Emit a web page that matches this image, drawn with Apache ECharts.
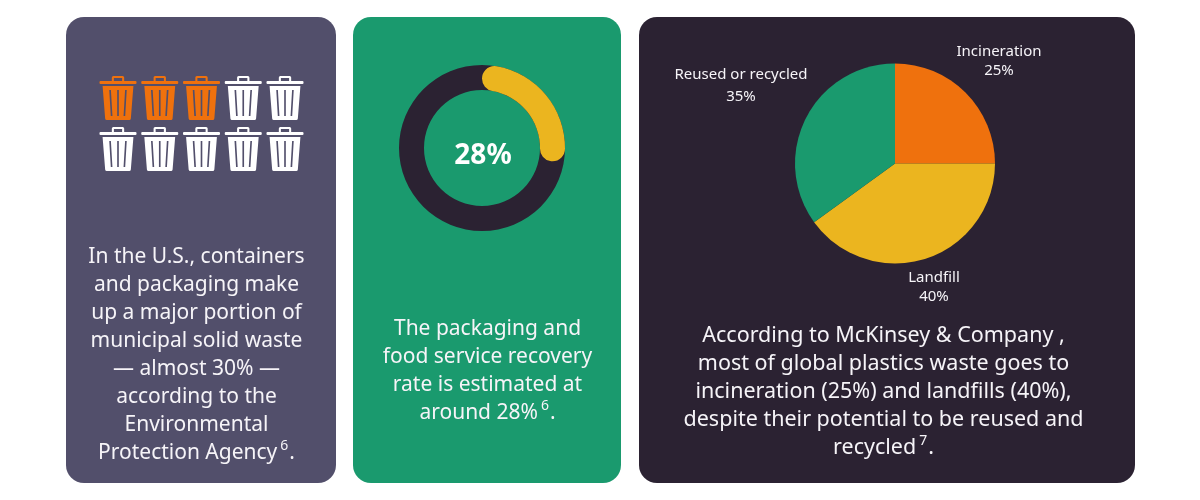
<!DOCTYPE html>
<html>
<head>
<meta charset="utf-8">
<style>
  html, body { margin: 0; padding: 0; background: #fff; }
  #main { width: 1200px; height: 500px; }
</style>
<script src="https://cdn.jsdelivr.net/npm/echarts@6/dist/echarts.min.js"></script>
</head>
<body>
<div id="main"></div>
<script>
// bins: 3 out of 10 filled
var binTotal = 10;
var binFilled = 3;
var binColumns = 5;

var recoveryRate = 28;

var pieNames = ['Incineration', 'Landfill', 'Reused or recycled'];
var pieValues = [25, 40, 35];

var leftLines = ['In the U.S., containers', 'and packaging make', 'up a major portion of', 'municipal solid waste',
    '— almost 30% —', 'according to the', 'Environmental', 'Protection Agency{sup|6}.'];
var middleLines = ['The packaging and', 'food service recovery', 'rate is estimated at', 'around 28%{sup|6}.'];
var rightLines = ['According to McKinsey & Company ,', 'most of global plastics waste goes to',
    'incineration (25%) and landfills (40%),', 'despite their potential to be reused and', 'recycled{sup|7}.'];

var FONT = '"Noto Sans", sans-serif';
var TEXT = '#F6F4F8';
var ORANGE = '#EF710D';
var YELLOW = '#EBB51F';
var GREEN = '#1A9A6E';
var DARK = '#2B2232';
var SLATE = '#524F6B';

var binPath = 'path://M12 5V1.5Q12 0 13.5 0H22.5Q24 0 24 1.5V5H22V2H14V5Z' +
    'M1 5H35Q36 5 36 6V7Q36 8 35 8H1Q0 8 0 7V6Q0 5 1 5Z' +
    'M3 10H33L30.5 42.5Q30.3 44 29 44H7Q5.7 44 5.5 42.5Z' +
    'M9.5 14L11 40H12.6L11.1 14Z' +
    'M17.2 14V40H18.8V14Z' +
    'M24.9 14L23.4 40H25L26.5 14Z';

function card(x, w, color) {
    return {
        type: 'rect', z: 0,
        shape: { x: x, y: 17, width: w, height: 466, r: 18 },
        style: { fill: color }
    };
}

function textBlock(lines, cx, firstY, size) {
    return lines.map(function (line, i) {
        return {
            type: 'text', z: 1, x: cx, y: firstY + i * 28,
            style: {
                text: line, fill: TEXT, font: size + 'px ' + FONT,
                align: 'center', verticalAlign: 'middle',
                rich: {
                    sup: { fontSize: 14, fontFamily: 'Noto Sans', fill: TEXT, verticalAlign: 'top', padding: [0, 1, 14, 3] }
                }
            }
        };
    });
}

var binData = [];
for (var i = 0; i < binTotal; i++) {
    binData.push({
        value: [i % binColumns, Math.floor(i / binColumns)],
        itemStyle: { color: i < binFilled ? ORANGE : '#FFFFFF', opacity: 1 }
    });
}

// label spots around the pie: centre x, centre y
var labelSpots = [[999, 61], [934, 287.5], [741, 85.5]];
var labelLineHeights = [19, 19, 22];

var pieData = [];
for (var j = 0; j < pieNames.length; j++) {
    pieData.push({
        name: pieNames[j],
        value: pieValues[j],
        itemStyle: { color: [ORANGE, YELLOW, GREEN][j] },
        label: { lineHeight: labelLineHeights[j] }
    });
}

var myChart = echarts.init(document.getElementById('main'));

var option = {
    animation: false,
    backgroundColor: '#FFFFFF',
    grid: { left: 118, top: 98, width: 167, height: 51 },
    xAxis: { type: 'value', min: 0, max: 4, show: false },
    yAxis: { type: 'value', min: 0, max: 1, inverse: true, show: false },
    graphic: [
        card(66, 270, SLATE),
        card(353, 268, GREEN),
        card(639, 496, DARK),
        {
            type: 'text', z: 1, x: 483, y: 156,
            style: {
                text: recoveryRate + '%', fill: '#FFFFFF', font: 'bold 28px ' + FONT,
                align: 'center', verticalAlign: 'middle'
            }
        }
    ].concat(textBlock(leftLines, 196.5, 257, 21))
     .concat(textBlock(middleLines, 487.5, 329, 21))
     .concat(textBlock(rightLines, 883.5, 336, 21.5)),
    series: [
        {
            type: 'scatter',
            clip: false,
            symbol: binPath,
            symbolSize: [37, 44],
            silent: true,
            data: binData
        },
        {
            type: 'pie',
            center: [482, 148],
            radius: [58, 83],
            silent: true,
            label: { show: false },
            labelLine: { show: false },
            data: [{ value: 100, itemStyle: { color: DARK } }]
        },
        {
            type: 'pie',
            center: [482, 148],
            radius: [58, 83],
            startAngle: 90,
            silent: true,
            label: { show: false },
            labelLine: { show: false },
            data: [
                { value: recoveryRate, itemStyle: { color: YELLOW, borderRadius: 12.5 } },
                { value: 100 - recoveryRate, itemStyle: { color: 'transparent' } }
            ]
        },
        {
            type: 'pie',
            center: [895, 163.5],
            radius: [0, 100],
            startAngle: 90,
            silent: true,
            label: {
                show: true,
                position: 'outside',
                formatter: '{b}\n{c}%',
                color: TEXT,
                fontFamily: FONT,
                fontSize: 15,
                align: 'center'
            },
            labelLine: { show: false },
            labelLayout: function (params) {
                var spot = labelSpots[params.dataIndex];
                return { x: spot[0], y: spot[1], align: 'center', verticalAlign: 'middle' };
            },
            data: pieData
        }
    ]
};
myChart.setOption(option);
</script>
</body>
</html>
